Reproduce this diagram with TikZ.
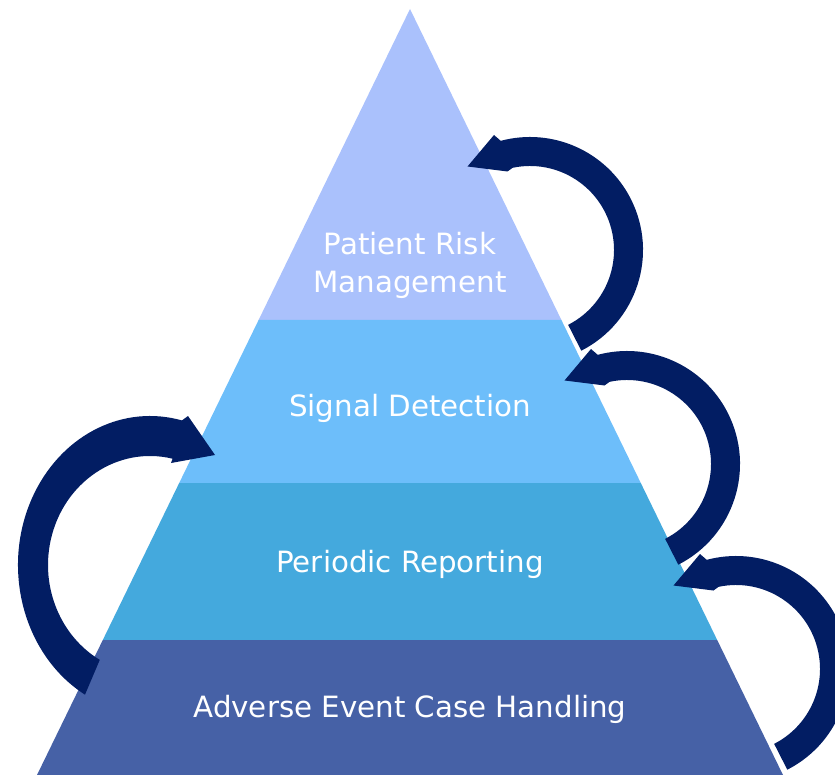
\documentclass[tikz,border=0pt]{standalone}
\usepackage{fontspec}
\setmainfont{DejaVu Sans}
\definecolor{layA}{HTML}{AAC1FC}
\definecolor{layB}{HTML}{6DBEFA}
\definecolor{layC}{HTML}{44A9DD}
\definecolor{layD}{HTML}{4661A6}
\definecolor{navy}{HTML}{021D63}
\tikzset{
  lbl/.style={text=white, font=\fontsize{29.3}{35}\selectfont, inner sep=0pt, anchor=base},
  arrowfill/.style={fill=navy}
}
\newcommand\rightcircpath{%
  \fill[arrowfill] (63:113) arc[start angle=63, end angle=-105, radius=113]
      -- (-36,-115) -- (-62.5,-83.5) -- (-22.5,-78.5)
      -- (-102:84) arc[start angle=-102, end angle=63, radius=84] -- cycle;}
\begin{document}
\begin{tikzpicture}[x=1pt,y=1pt,yscale=-1]
\useasboundingbox (0,0) rectangle (835,775);
\clip (0,0) rectangle (835,775);
% pyramid corners
\coordinate (apex) at (410,9);
\coordinate (l1) at (258.6,320); \coordinate (r1) at (561.4,320);
\coordinate (l2) at (179.2,483); \coordinate (r2) at (640.8,483);
\coordinate (l3) at (102.8,640); \coordinate (r3) at (717.2,640);
\coordinate (l4) at (37,775);    \coordinate (r4) at (783,775);
\fill[layA] (apex) -- (l1) -- (r1) -- cycle;
\fill[layB] (l1) -- (l2) -- (r2) -- (r1) -- cycle;
\fill[layC] (l2) -- (l3) -- (r3) -- (r2) -- cycle;
\fill[layD] (l3) -- (l4) -- (r4) -- (r3) -- cycle;
% labels
\node[lbl] (prm1) at (410,255) {Patient Risk};
\node[lbl] (prm2) at (410,292.7) {Management};
\node[lbl] (sd) at (410,416.7) {Signal Detection};
\node[lbl] (pr) at (410,572) {Periodic Reporting};
\node[lbl] (ae) at (410,717) {Adverse Event Case Handling};
% right circular arrows
\begin{scope}[shift={(530,250)}]\rightcircpath\end{scope}
\begin{scope}[shift={(627,464)}]\rightcircpath\end{scope}
\begin{scope}[shift={(736,669)}]\rightcircpath\end{scope}
% left circular arrow
\begin{scope}[shift={(150,565)}]
\fill[arrowfill] (119.5:132 and 149) arc[start angle=119.5, end angle=284, x radius=132, y radius=149]
  -- (38,-149) -- (65,-110) -- (21,-102)
  -- (282.8:102 and 109) arc[start angle=282.8, end angle=119.5, x radius=102, y radius=109] -- cycle;
\end{scope}
\end{tikzpicture}
\end{document}
